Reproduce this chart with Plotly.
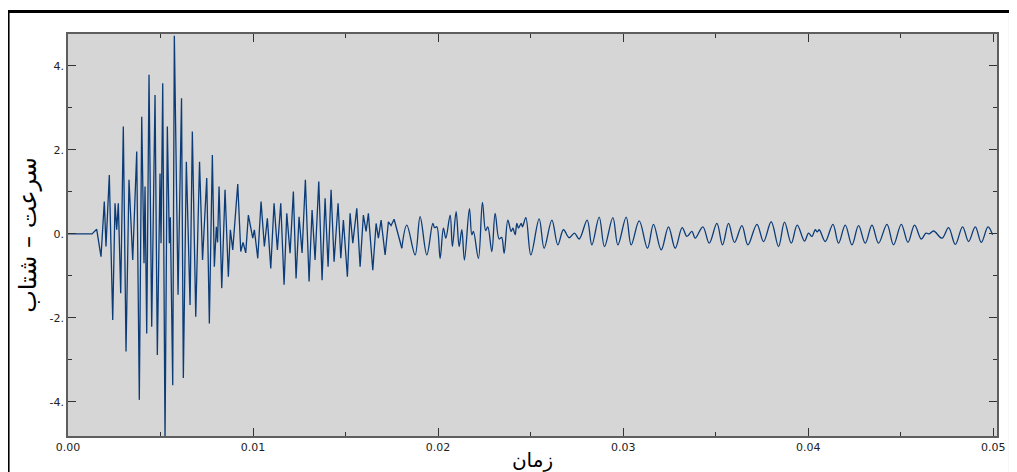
import numpy as np
import plotly.graph_objects as go

# ---- data (time in milliseconds, acceleration) ----
time_ms_burst = [0.0, 1.297, 1.551, 1.784, 1.962, 2.054, 2.232, 2.416, 2.541, 2.632,
                 2.719, 2.849, 2.989, 3.135, 3.297, 3.497, 3.714, 3.854, 3.984, 4.108,
                 4.162, 4.254, 4.378, 4.524, 4.703, 4.827, 4.973, 5.027, 5.119, 5.243,
                 5.368, 5.476, 5.530, 5.659, 5.746, 5.946, 6.135, 6.232, 6.395, 6.595,
                 6.719, 6.903, 7.108, 7.270, 7.497, 7.638, 7.800, 7.908, 8.016, 8.081,
                 8.162, 8.308, 8.486, 8.665, 8.773, 8.903, 9.173, 9.335, 9.459, 9.605,
                 9.746, 9.984, 10.070, 10.254, 10.432, 10.611, 10.773, 10.957, 11.135, 11.314,
                 11.497, 11.676, 11.822, 12.000, 12.178, 12.324, 12.486, 12.649, 12.827, 13.027,
                 13.189, 13.351, 13.551, 13.730, 13.892, 14.054, 14.216, 14.378, 14.595, 14.741,
                 14.881, 15.097, 15.243, 15.389, 15.605, 15.784, 15.962, 16.108, 16.232, 16.470,
                 16.649, 16.773, 16.919, 17.135, 17.314, 17.459, 17.622, 18.038]
accel_burst = [0.0, 0.0, 0.11, -0.54, 0.77, -0.30, 1.40, -2.05, 0.73, 0.10,
               0.73, -1.41, 2.56, -2.80, 1.29, -0.62, 1.96, -3.95, 2.79, -0.70,
               1.13, -2.37, 3.79, -2.21, 3.31, -2.88, 1.44, -0.22, 3.59, -4.90,
               2.56, -0.22, 0.40, -3.60, 4.72, -1.45, 3.23, -3.43, 1.72, -1.69,
               2.44, -1.97, 1.72, -0.62, 1.33, -2.13, 1.88, -0.78, 0.17, -0.20,
               1.13, -1.29, 1.05, -1.02, 0.10, -0.38, 1.19, -0.42, -0.20, -0.45,
               0.45, -0.10, 0.10, -0.58, 0.77, -0.30, 0.37, -0.82, 0.73, -0.38,
               0.73, -1.21, 0.49, -0.46, 1.01, -1.06, 0.41, -0.45, 1.29, -1.13,
               0.57, -0.62, 1.25, -1.10, 0.85, -0.78, 1.05, -0.66, 0.73, -0.58,
               0.33, -1.02, 0.49, -0.22, 0.61, -0.78, 0.45, 0.06, 0.49, -0.86,
               0.25, -0.10, 0.33, -0.50, 0.29, 0.20, 0.35, -0.34]

time_ms_tail = [18.038, 18.308, 18.757, 19.027, 19.389, 19.714, 19.811, 19.930, 20.108, 20.286,
                20.416, 20.649, 20.773, 20.973, 21.135, 21.281, 21.422, 21.692, 21.822, 21.908,
                22.178, 22.395, 22.568, 22.686, 22.903, 23.081, 23.297, 23.432, 23.568, 23.768,
                23.946, 24.038, 24.162, 24.254, 24.341, 24.486, 24.557, 24.741, 25.011, 25.459,
                25.730, 26.146, 26.470, 26.773, 27.081, 27.368, 27.622, 28.054, 28.308, 28.703,
                28.989, 29.443, 29.714, 30.162, 30.432, 30.865, 31.314, 31.638, 32.054, 32.449,
                32.811, 33.189, 33.443, 33.714, 33.892, 34.308, 34.649, 35.065, 35.368, 35.692,
                36.016, 36.416, 36.741, 37.227, 37.584, 38.000, 38.395, 38.719, 39.081, 39.405,
                39.800, 40.016, 40.200, 40.378, 40.486, 40.595, 40.919, 41.335, 41.638, 42.000,
                42.362, 42.719, 43.081, 43.443, 43.800, 44.254, 44.611, 45.027, 45.389, 45.746,
                46.108, 46.362, 46.541, 46.773, 47.227, 47.584, 47.946, 48.341, 48.665, 49.027,
                49.351, 49.714, 49.962]
accel_tail = [-0.34, 0.21, -0.50, 0.41, -0.50, 0.25, 0.15, 0.17, -0.58, 0.14,
              -0.10, 0.45, -0.30, 0.53, -0.30, 0.10, -0.62, 0.60, -0.02, 0.06,
              -0.58, 0.75, 0.08, 0.17, -0.42, 0.49, -0.12, -0.08, -0.46, 0.33,
              0.06, 0.14, -0.02, 0.25, 0.14, 0.25, 0.17, 0.39, -0.50, 0.36,
              -0.34, 0.33, -0.26, 0.10, -0.09, 0.02, -0.12, 0.33, -0.26, 0.40,
              -0.30, 0.39, -0.26, 0.40, -0.26, 0.31, -0.34, 0.23, -0.38, 0.17,
              -0.34, 0.15, -0.06, 0.06, -0.10, 0.17, -0.22, 0.25, -0.26, 0.25,
              -0.20, 0.20, -0.26, 0.23, -0.18, 0.29, -0.30, 0.28, -0.22, 0.21,
              -0.17, 0.02, -0.06, 0.10, 0.05, 0.10, -0.18, 0.23, -0.22, 0.21,
              -0.26, 0.20, -0.22, 0.21, -0.22, 0.23, -0.26, 0.23, -0.20, 0.21,
              -0.12, 0.02, 0.00, 0.07, -0.10, 0.15, -0.25, 0.17, -0.18, 0.17,
              -0.20, 0.17, -0.02]

x_tick_vals = [0.0, 0.01, 0.02, 0.03, 0.04, 0.05]
x_tick_text = ["0.00", "0.01", "0.02", "0.03", "0.04", "0.05"]
x_minor_vals = [0.005, 0.015, 0.025, 0.035, 0.045]
y_tick_vals = [-4, -2, 0, 2, 4]
y_tick_text = ["-4.", "-2.", "0.", "2.", "4."]
y_minor_vals = [-3, -1, 1, 3]

x_title = "زمان"
y_title = "سرعت – شتاب"

LINE = "#0b3c78"

fig = go.Figure()
fig.add_trace(go.Scatter(x=np.array(time_ms_burst) / 1000.0, y=accel_burst, mode="lines",
                         line=dict(color=LINE, width=1.3, shape="linear"), hoverinfo="skip"))
fig.add_trace(go.Scatter(x=np.array(time_ms_tail) / 1000.0, y=accel_tail, mode="lines",
                         line=dict(color=LINE, width=1.3, shape="spline", smoothing=1.0),
                         hoverinfo="skip"))

axis_common = dict(showline=True, linecolor="#5e5e5e", linewidth=1.5, mirror="allticks",
                   ticks="inside", ticklen=8, tickwidth=1.2, tickcolor="#333333",
                   showgrid=False, zeroline=False,
                   tickfont=dict(family="DejaVu Sans", size=11, color="#222222"))

fig.update_xaxes(range=[0, 0.0502], tickmode="array", tickvals=x_tick_vals, ticktext=x_tick_text,
                 minor=dict(tickmode="array", tickvals=x_minor_vals, ticks="inside", ticklen=4,
                            tickcolor="#333333", tickwidth=1),
                 title=dict(text=x_title, font=dict(family="DejaVu Sans", size=20, color="#000000"),
                            standoff=0),
                 **axis_common)
fig.update_yaxes(range=[-4.81, 4.76], tickmode="array", tickvals=y_tick_vals, ticktext=y_tick_text,
                 minor=dict(tickmode="array", tickvals=y_minor_vals, ticks="inside", ticklen=4,
                            tickcolor="#333333", tickwidth=1),
                 title=dict(text=y_title, font=dict(family="DejaVu Sans", size=24, color="#000000"),
                            standoff=6),
                 **axis_common)

# the page body adds an 8 px offset, so the figure is laid out 8 px smaller
fig.update_layout(width=1009, height=464, margin=dict(l=60, r=20, t=26, b=36, autoexpand=False),
                  paper_bgcolor="white", plot_bgcolor="#d6d6d6", showlegend=False,
                  shapes=[dict(type="rect", xref="paper", yref="paper",
                               x0=-0.0645, x1=1.0145, y0=-0.2, y1=1.056,
                               line=dict(color="black", width=3), fillcolor="rgba(0,0,0,0)",
                               layer="above")])

fig.write_html("out.html")
